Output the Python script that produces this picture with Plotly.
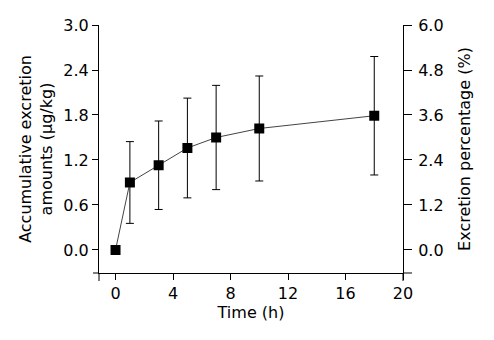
import plotly.graph_objects as go

time_h = [0, 1, 3, 5, 7, 10, 18]
amount = [0.0, 0.90, 1.13, 1.36, 1.50, 1.62, 1.79]
amount_sd = [0.0, 0.545, 0.59, 0.665, 0.695, 0.70, 0.79]
percent = [v * 2 for v in amount]

left_ticks = [0.0, 0.6, 1.2, 1.8, 2.4, 3.0]
right_ticks = [0.0, 1.2, 2.4, 3.6, 4.8, 6.0]
x_ticks = [0, 4, 8, 12, 16, 20]

FONT = "Verdana, DejaVu Sans, sans-serif"
FS = 16

fig = go.Figure()
fig.add_trace(go.Scatter(
    x=time_h, y=amount, mode="lines+markers",
    line=dict(color="#444444", width=1),
    marker=dict(symbol="square", size=10, color="black"),
    error_y=dict(type="data", array=amount_sd, visible=True,
                 color="black", thickness=1, width=4),
    showlegend=False,
))
fig.add_trace(go.Scatter(
    x=time_h, y=percent, yaxis="y2", mode="markers",
    marker=dict(opacity=0), hoverinfo="skip", showlegend=False,
))

axis_common = dict(
    showline=True, linecolor="black", linewidth=1,
    ticks="outside", tickcolor="black", tickwidth=1,
    showgrid=False, zeroline=False, automargin=False,
    tickfont=dict(family=FONT, size=FS, color="black"),
)

fig.update_layout(
    width=486, height=332,
    margin=dict(l=91, r=91, t=17, b=67),
    paper_bgcolor="white", plot_bgcolor="white",
    font=dict(family=FONT, size=FS, color="black"),
    xaxis=dict(**axis_common, ticklen=6, range=[-1.15, 20], tickvals=x_ticks,
               title=dict(text="Time (h)", standoff=2,
                          font=dict(family=FONT, size=FS))),
    yaxis=dict(**axis_common, ticklen=6, range=[-0.307, 3.0], tickvals=left_ticks,
               tickformat=".1f",
               title=dict(text="Accumulative excretion<br>amounts (μg/kg)",
                          standoff=6, font=dict(family=FONT, size=FS))),
    yaxis2=dict(**axis_common, ticklen=8, ticklabelstandoff=3,
                range=[-0.614, 6.0], tickvals=right_ticks,
                tickformat=".1f", overlaying="y", side="right",
                title=dict(text="Excretion percentage (%)", standoff=16,
                           font=dict(family=FONT, size=FS))),
)

line = dict(color="black", width=1)
shapes = [
    dict(type="line", xref="paper", yref="paper", xsizemode="pixel", xanchor=0,
         x0=-6, x1=0, y0=0, y1=0, line=line),
    dict(type="line", xref="paper", yref="paper", xsizemode="pixel", xanchor=1,
         x0=0, x1=9, y0=0, y1=0, line=line),
    dict(type="line", xref="paper", yref="paper", ysizemode="pixel", yanchor=0,
         y0=-8, y1=0, x0=0, x1=0, line=line),
    dict(type="line", xref="paper", yref="paper", ysizemode="pixel", yanchor=0,
         y0=-8, y1=0, x0=1, x1=1, line=line),
]
fig.update_layout(shapes=shapes)

fig.write_html("out.html")
